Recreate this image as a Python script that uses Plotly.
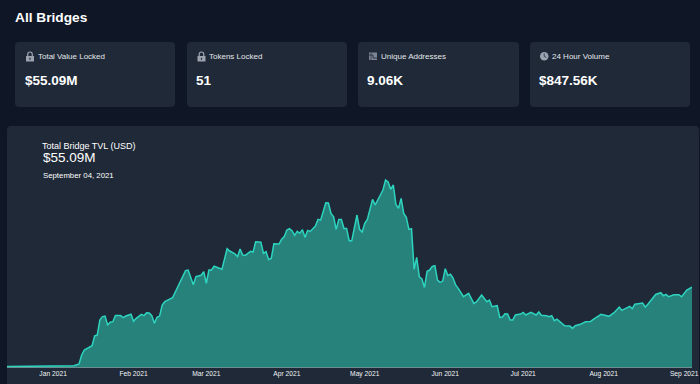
import pandas as pd
import plotly.graph_objects as go

W, H = 700, 384

# Series: days since 1 Jan 2021, TVL in $M
days = [-18, 5, 8, 10, 11, 12, 14, 15, 16, 17, 18, 19, 20, 21, 22, 23, 24, 26, 27, 28, 30, 31, 32, 34, 35, 36, 37, 38, 39, 40, 41, 42, 43, 45, 46, 47, 49, 51, 52, 54, 55, 56, 57, 58, 59, 60, 61, 62, 64, 65, 67, 68, 70, 71,
        72, 73, 74, 76, 77, 78, 80, 81, 82, 83, 84, 85, 87, 88, 89, 90, 91, 92, 93, 94, 95, 96, 97, 98, 99, 101, 102, 103, 105, 106, 107, 108, 109, 110, 111, 112, 113, 114, 115, 117, 118, 119, 120, 121, 123, 124, 127, 128, 129, 130, 131, 132, 133, 134, 135, 136, 137, 138, 139, 140, 141, 142, 143, 144, 145, 146, 147, 148, 149, 150, 151, 152, 153, 154, 155, 156,
        158, 160, 162, 163, 165, 166, 167, 168, 169, 171, 172, 173, 174, 175, 176, 177, 178, 180, 181, 182, 184, 186, 187, 188, 190, 191, 192, 193, 194, 197, 199, 200, 201, 203, 205, 207, 208, 211, 212, 214, 216, 218, 219, 221, 222, 223, 224, 227, 228, 229, 232, 234, 235, 236, 237, 239, 241, 242, 244, 246]
tvl_musd = [0.3, 0.5, 0.9, 2.1, 8.3, 11.7, 14.0, 14.7, 21.4, 22.0, 32.4, 34.7, 35.1, 29.0, 30.8, 31.2, 35.4, 35.4, 34.0, 35.1, 36.3, 31.5, 33.5, 36.3, 35.4, 37.4, 37.2, 35.4, 30.1, 34.2, 35.1, 42.7, 45.0, 46.6, 47.8, 51.5, 59.3, 66.4, 66.8, 56.7, 62.3, 62.9, 63.2, 65.7, 57.7, 66.8, 66.8, 69.4, 68.0, 67.3, 81.5, 79.9, 77.9, 76.0,
            81.3, 77.1, 76.9, 79.7, 79.2, 86.3, 86.0, 78.3, 79.4, 74.1, 74.8, 84.9, 84.7, 88.1, 89.8, 94.4, 95.3, 93.9, 90.7, 93.4, 92.1, 94.6, 89.3, 94.1, 93.4, 97.1, 101.7, 101.2, 113.2, 113.0, 105.8, 103.5, 94.8, 101.7, 101.7, 95.5, 95.5, 87.0, 87.0, 104.7, 94.8, 93.0, 99.0, 101.7, 115.5, 111.6, 121.9, 128.8, 127.4, 122.4, 125.4, 112.0, 109.3, 116.2, 105.8, 103.1, 94.8, 95.3, 67.3, 75.5, 62.2, 60.6, 54.8, 65.9, 66.8, 69.3, 69.8, 59.9, 58.3, 59.2, 67.7, 63.1, 64.0, 61.3, 56.5, 54.2,
            48.4, 50.7, 43.8, 44.8, 49.6, 47.3, 45.0, 46.1, 41.5, 42.2, 34.2, 34.4, 36.7, 36.5, 32.4, 32.4, 35.8, 36.5, 37.6, 35.8, 37.6, 35.8, 37.9, 35.6, 35.3, 34.6, 35.3, 31.9, 33.0, 28.4, 28.2, 26.6, 28.4, 29.4, 31.2, 31.4, 32.8, 36.3, 35.8, 34.9, 37.4, 41.3, 39.0, 40.9, 41.8, 40.2, 43.2, 44.1, 41.3, 43.2, 50.0, 51.2, 49.1, 50.0, 48.4, 49.8, 49.8, 48.4, 53.0, 55.09]
tick_dates = ["2021-01-01", "2021-02-01", "2021-03-01", "2021-04-01", "2021-05-01", "2021-06-01", "2021-07-01", "2021-08-01", "2021-09-01"]
tick_labels = ["Jan 2021", "Feb 2021", "Mar 2021", "Apr 2021", "May 2021", "Jun 2021", "Jul 2021", "Aug 2021", "Sep 2021"]
card_titles = ["Total Value Locked", "Tokens Locked", "Unique Addresses", "24 Hour Volume"]
card_values = ["$55.09M", "51", "9.06K", "$847.56K"]

BG, CARD, LINE, FILL = "#0f1727", "#1f2937", "#2dd4bf", "#26827b"
ICON = "#9ca3af"
FONT = "Liberation Sans"
dates = pd.Timestamp("2021-01-01") + pd.to_timedelta(days, unit="D")


def px(x):
    return x / W


def py(y):
    return 1 - y / H


def rrect(x0, y0, x1, y1, r, fill):
    X0, X1, Y0, Y1 = px(x0), px(x1), py(y0), py(y1)
    rx, ry = r / W, r / H
    d = (f"M {X0+rx},{Y0} L {X1-rx},{Y0} Q {X1},{Y0} {X1},{Y0-ry} L {X1},{Y1+ry} Q {X1},{Y1} {X1-rx},{Y1} "
         f"L {X0+rx},{Y1} Q {X0},{Y1} {X0},{Y1+ry} L {X0},{Y0-ry} Q {X0},{Y0} {X0+rx},{Y0} Z")
    return dict(type="path", path=d, xref="paper", yref="paper", fillcolor=fill, line_width=0, layer="below")


def rect(x0, y0, x1, y1, fill):
    return dict(type="rect", xref="paper", yref="paper", x0=px(x0), x1=px(x1), y0=py(y0), y1=py(y1),
                fillcolor=fill, line_width=0, layer="below")


def seg(points, color, width=1.0):
    d = "M " + " L ".join(f"{px(a)},{py(b)}" for a, b in points)
    return dict(type="path", xref="paper", yref="paper", layer="below", path=d, line=dict(color=color, width=width))


def lock(x, y):
    return [
        rect(x, y + 4, x + 8, y + 9.5, ICON),
        rect(x + 3.4, y + 5.8, x + 4.6, y + 7.8, CARD),
        dict(type="path", xref="paper", yref="paper", layer="below", fillcolor="rgba(0,0,0,0)",
             line=dict(color=ICON, width=1.2),
             path=f"M {px(x+1.7)},{py(y+4)} L {px(x+1.7)},{py(y+2.5)} Q {px(x+1.7)},{py(y)} {px(x+4)},{py(y)} "
                  f"Q {px(x+6.3)},{py(y)} {px(x+6.3)},{py(y+2.5)} L {px(x+6.3)},{py(y+4)}"),
    ]


def text(x, y, s, size, color="#ffffff", bold=False):
    return dict(xref="paper", yref="paper", x=px(x), y=py(y), xanchor="left", yanchor="middle", showarrow=False,
                align="left", text=f"<b>{s}</b>" if bold else s, borderpad=0,
                font=dict(family=FONT, size=size, color=color))


card_x = [(15, 175), (187, 347), (358, 519), (530, 690)]
shapes = [rrect(7, 126, 699, 400, 4, CARD)]
annotations = [text(13.5, 17.5, "All Bridges", 13.7, bold=True),
               text(40.5, 145.5, "Total Bridge TVL (USD)", 9),
               text(41.5, 158, "$55.09M", 13.5),
               text(41.5, 175.5, "September 04, 2021", 7.8)]
title_x = [36.8, 208.3, 379.8, 551.3]
value_x = [23.5, 195, 366, 537.5]
for (a, b), t, v, tx, vx in zip(card_x, card_titles, card_values, title_x, value_x):
    shapes.append(rrect(a, 42, b, 107, 4, CARD))
    annotations.append(text(tx, 56, t, 8, "#e5e7eb"))
    annotations.append(text(vx, 80, v, 13.5, bold=True))
shapes += lock(26, 52) + lock(197.5, 52)
shapes.append(rect(369, 52.5, 377, 60, "#7d8492"))
shapes.append(seg([(369, 55), (373, 55), (373, 58), (377, 58)], CARD, 0.8))
shapes.append(seg([(371, 52.5), (371, 60)], CARD, 0.6))
shapes.append(dict(type="circle", xref="paper", yref="paper", x0=px(540), x1=px(548.5), y0=py(52), y1=py(60.5),
                   fillcolor=ICON, line_width=0, layer="below"))
shapes.append(seg([(544.2, 53.5), (544.2, 56.3), (546.3, 57.6)], CARD, 0.8))

fig = go.Figure(go.Scatter(x=dates, y=tvl_musd, mode="lines", fill="tozeroy", fillcolor=FILL,
                           line=dict(color=LINE, width=1.5), hoverinfo="skip"))
fig.update_layout(
    width=W, height=H, margin=dict(l=0, r=0, t=0, b=0), paper_bgcolor=BG, plot_bgcolor="rgba(0,0,0,0)",
    showlegend=False, shapes=shapes, annotations=annotations,
    xaxis=dict(domain=[px(7), px(692)], range=["2020-12-14 06:00", "2021-09-04"], type="date",
               tickmode="array", tickvals=tick_dates, ticktext=tick_labels, ticks="", showgrid=False,
               zeroline=False, showline=True, linecolor="#6b8f90", linewidth=1, automargin=False,
               tickfont=dict(family=FONT, size=6.7, color="#f3f4f6"), anchor="y"),
    yaxis=dict(domain=[py(367), py(178.3)], range=[0, 130], visible=False, fixedrange=True),
)
post = ("document.documentElement.style.overflow='hidden';document.body.style.overflow='hidden';"
        "document.body.style.margin='0';document.body.style.background='#0f1727';"
        "document.querySelectorAll('.plotly-graph-div,.svg-container').forEach(function(e){e.style.overflow='hidden';});")
fig.write_html("out.html", config=dict(displayModeBar=False), post_script=post)
